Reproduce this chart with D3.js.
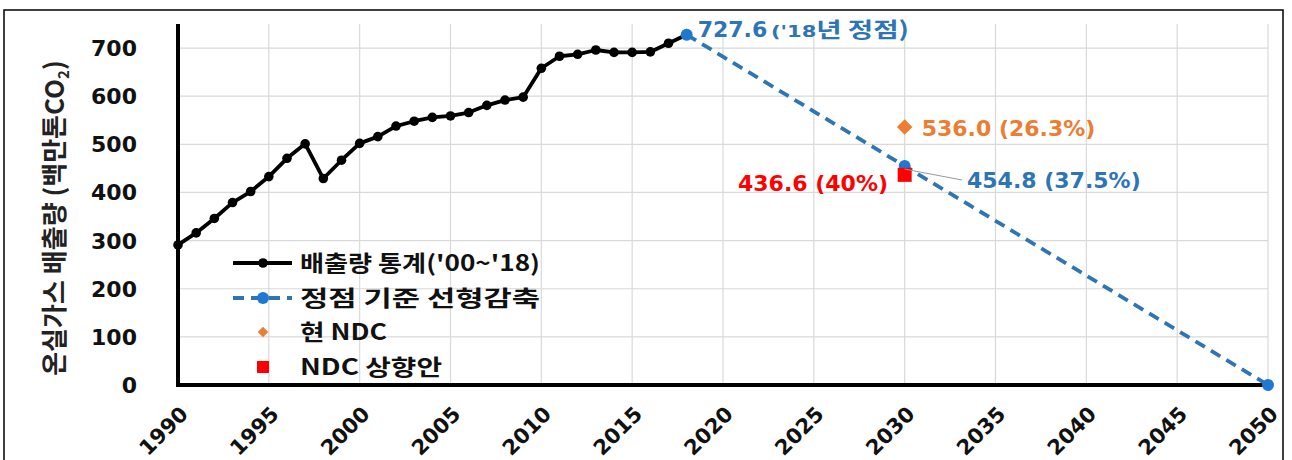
<!DOCTYPE html>
<html>
<head>
<meta charset="utf-8">
<script src="https://cdn.jsdelivr.net/npm/d3@7"></script>
<style>
  body { margin: 0; background: #fff; }
  text { font-family: "DejaVu Sans", "Noto Sans CJK KR", sans-serif; font-weight: bold; }
  .kr { font-family: "Noto Sans CJK KR", sans-serif; }
</style>
</head>
<body>
<div id="chart"></div>
<script>
// emissions statistics 1990-2018 (million tons CO2eq)
var years = d3.range(1990, 2019);
var emissions = [291, 316, 346, 379, 402, 433, 471, 501, 429, 467,
                 502, 516, 538, 548, 556, 559, 566, 581, 592, 598,
                 658, 683, 687, 696, 691, 691, 692, 710, 727.6];
// linear reduction from the 2018 peak
var pathYears = [2018, 2030, 2050];
var pathValues = [727.6, 454.8, 0];
var ndcYear = 2030;
var ndcCurrent = 536.0;
var ndcRaised = 436.6;
var yTicks = [0, 100, 200, 300, 400, 500, 600, 700];
var xTicks = d3.range(1990, 2051, 5);
var legendNames = ["배출량 통계('00~'18)", "정점 기준 선형감축", "현 NDC", "NDC 상향안"];
var legendWidths = [240, 240, 87, 142];

var W = 1292, H = 460;
var svg = d3.select("#chart").append("svg").attr("width", W).attr("height", H);

var blue = "#2e75b6", blueDot = "#1f78d1", orange = "#ed7d31", red = "#ff0000";

// outer frame
svg.append("rect").attr("x", 4).attr("y", 10).attr("width", 1279).attr("height", 470)
   .attr("fill", "none").attr("stroke", "#000").attr("stroke-width", 1.5);

var x = d3.scaleLinear().domain([1990, 2050]).range([178, 1268]);
var y = d3.scaleLinear().domain([0, 750]).range([385, 24]);

var g = svg.append("g");

// gridlines
g.selectAll(".hg").data(yTicks.slice(1)).enter().append("line")
  .attr("x1", x(1990)).attr("x2", x(2050))
  .attr("y1", function(d) { return y(d); }).attr("y2", function(d) { return y(d); })
  .attr("stroke", "#d9d9d9").attr("stroke-width", 1.2);
g.selectAll(".vg").data(xTicks.slice(1)).enter().append("line")
  .attr("x1", function(d) { return x(d); }).attr("x2", function(d) { return x(d); })
  .attr("y1", y(750)).attr("y2", y(0))
  .attr("stroke", "#d9d9d9").attr("stroke-width", 1.2);

// axes
g.append("line").attr("x1", x(1990)).attr("x2", x(1990)).attr("y1", y(750)).attr("y2", y(0) + 2)
  .attr("stroke", "#000").attr("stroke-width", 4);
g.append("line").attr("x1", x(1990) - 2).attr("x2", x(2050)).attr("y1", y(0)).attr("y2", y(0))
  .attr("stroke", "#000").attr("stroke-width", 4);

g.selectAll(".yl").data(yTicks).enter().append("text")
  .attr("x", 137).attr("y", function(d) { return y(d); }).attr("dy", "0.36em")
  .attr("text-anchor", "end").attr("font-size", 22).attr("fill", "#111")
  .text(function(d) { return d; });

g.selectAll(".xl").data(xTicks).enter().append("text")
  .attr("transform", function(d) { return "translate(" + (x(d) + 6) + ",410) rotate(-45)"; })
  .attr("text-anchor", "end").attr("dy", "0.36em")
  .attr("font-size", 21).attr("fill", "#111")
  .text(function(d) { return d; });

// y axis title
var title = g.append("text").attr("class", "kr")
  .attr("transform", "translate(64,218) rotate(-90)")
  .attr("text-anchor", "middle").attr("font-size", 26).attr("fill", "#222");
title.append("tspan").text("온실가스 배출량 (백만톤CO");
title.append("tspan").attr("font-size", 15).attr("dy", 5).text("2");
title.append("tspan").attr("dy", -5).text(")");

// emissions line
var pts = years.map(function(d, i) { return [d, emissions[i]]; });
var line = d3.line().x(function(d) { return x(d[0]); }).y(function(d) { return y(d[1]); });
g.append("path").datum(pts).attr("d", line).attr("fill", "none")
  .attr("stroke", "#000").attr("stroke-width", 3.8).attr("stroke-linejoin", "round");
g.selectAll(".ed").data(pts).enter().append("circle")
  .attr("cx", function(d) { return x(d[0]); }).attr("cy", function(d) { return y(d[1]); })
  .attr("r", 4.8).attr("fill", "#000");

// linear reduction path
var pp = pathYears.map(function(d, i) { return [d, pathValues[i]]; });
g.append("path").datum(pp).attr("d", line).attr("fill", "none")
  .attr("stroke", blue).attr("stroke-width", 3.8).attr("stroke-dasharray", "11,7");
g.selectAll(".pd").data(pp).enter().append("circle")
  .attr("cx", function(d) { return x(d[0]); }).attr("cy", function(d) { return y(d[1]); })
  .attr("r", 6).attr("fill", blueDot);

// NDC markers
var sq = d3.symbol().type(d3.symbolSquare);
g.append("path").attr("d", sq.size(120))
  .attr("transform", "translate(" + x(ndcYear) + "," + y(ndcCurrent) + ") rotate(45)").attr("fill", orange);
g.append("rect").attr("x", x(ndcYear) - 7).attr("y", y(ndcRaised) - 7)
  .attr("width", 14).attr("height", 14).attr("fill", red);

// leader line for 454.8
g.append("line").attr("x1", x(ndcYear)).attr("y1", y(pathValues[1]) + 3)
  .attr("x2", 962).attr("y2", 180).attr("stroke", "#999").attr("stroke-width", 1);

// annotations
g.append("text").attr("x", x(2018) + 11).attr("y", 37).attr("fill", blue)
  .attr("font-size", 22).text(pathValues[0].toFixed(1));
var a1 = g.append("text").attr("x", 771).attr("y", 37).attr("fill", blue)
  .attr("textLength", 138).attr("lengthAdjust", "spacingAndGlyphs");
a1.append("tspan").attr("font-size", 16).text("('18");
a1.append("tspan").attr("class", "kr").attr("font-size", 21).text("년 정점)");

g.append("text").attr("x", x(ndcYear) + 17).attr("y", y(ndcCurrent) + 9)
  .attr("font-size", 22).attr("fill", orange).text(ndcCurrent.toFixed(1) + " (26.3%)");
g.append("text").attr("x", 967).attr("y", 188)
  .attr("font-size", 22).attr("fill", blue).text(pathValues[1].toFixed(1) + " (37.5%)");
g.append("text").attr("x", 888).attr("y", 191).attr("text-anchor", "end")
  .attr("font-size", 22).attr("fill", red).text(ndcRaised.toFixed(1) + " (40%)");

// legend
var lg = g.append("g").attr("transform", "translate(233,0)");
var rows = [263, 298, 332, 367];
lg.append("line").attr("x1", 0).attr("x2", 59).attr("y1", rows[0]).attr("y2", rows[0])
  .attr("stroke", "#000").attr("stroke-width", 3.8);
lg.append("circle").attr("cx", 30).attr("cy", rows[0]).attr("r", 4.8).attr("fill", "#000");
lg.append("line").attr("x1", 0).attr("x2", 59).attr("y1", rows[1]).attr("y2", rows[1])
  .attr("stroke", blue).attr("stroke-width", 3.8).attr("stroke-dasharray", "11,7");
lg.append("circle").attr("cx", 30).attr("cy", rows[1]).attr("r", 6).attr("fill", blueDot);
lg.append("path").attr("d", sq.size(55))
  .attr("transform", "translate(30," + rows[2] + ") rotate(45)").attr("fill", orange);
lg.append("rect").attr("x", 24).attr("y", rows[3] - 6).attr("width", 12).attr("height", 12).attr("fill", red);
lg.selectAll(".lt").data(legendNames).enter().append("text").attr("class", "kr")
  .attr("x", 67).attr("y", function(d, i) { return rows[i]; }).attr("dy", "0.36em")
  .attr("font-size", 22).attr("fill", "#111")
  .attr("textLength", function(d, i) { return legendWidths[i]; })
  .attr("lengthAdjust", "spacingAndGlyphs")
  .text(function(d) { return d; });
</script>
</body>
</html>
